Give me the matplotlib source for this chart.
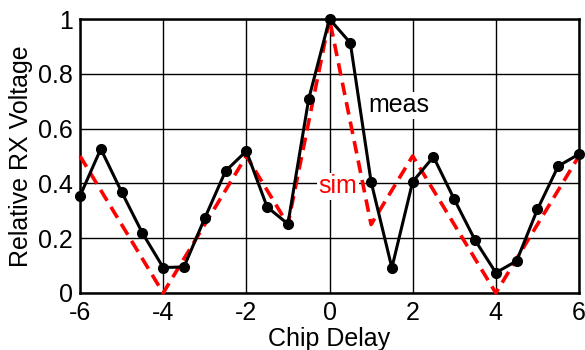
import matplotlib
matplotlib.use("Agg")
import matplotlib.pyplot as plt

plt.rcParams['font.family'] = ['Liberation Sans', 'DejaVu Sans']
plt.rcParams['axes.unicode_minus'] = False

# measured correlation vs chip delay
meas_x = [-6, -5.5, -5, -4.5, -4, -3.5, -3, -2.5, -2, -1.5, -1, -0.5, 0,
          0.5, 1, 1.5, 2, 2.5, 3, 3.5, 4, 4.5, 5, 5.5, 6]
meas_y = [0.354, 0.526, 0.369, 0.219, 0.093, 0.095, 0.273, 0.445, 0.518,
          0.314, 0.252, 0.708, 1.0, 0.913, 0.406, 0.092, 0.406, 0.497,
          0.342, 0.193, 0.074, 0.117, 0.305, 0.463, 0.507]

# simulated correlation
sim_x = [-6, -4, -2, -1, 0, 1, 2, 4, 6]
sim_y = [0.5, 0, 0.5, 0.25, 1.0, 0.25, 0.5, 0, 0.5]

x_ticks = [-6, -4, -2, 0, 2, 4, 6]
y_ticks = [0, 0.2, 0.4, 0.6, 0.8, 1]
y_tick_labels = ['0', '0.2', '0.4', '0.6', '0.8', '1']

fig = plt.figure(figsize=(5.85, 3.5), dpi=100)
ax = fig.add_axes([80/585, 1 - 293/350, 499/585, 274/350])

ax.plot(sim_x, sim_y, color='#ff0000', lw=2.6, ls=(0, (3.5, 2)), zorder=3,
        clip_on=False)
ax.plot(meas_x, meas_y, color='black', lw=2.2, marker='o', ms=7, zorder=4,
        clip_on=False)

ax.set_xlim(-6, 6)
ax.set_ylim(0, 1)
ax.set_xticks(x_ticks)
ax.set_yticks(y_ticks)
ax.set_yticklabels(y_tick_labels)
ax.grid(True, color='black', lw=1.0)
ax.set_axisbelow(True)
for s in ax.spines.values():
    s.set_linewidth(1.8)
ax.tick_params(direction='in', length=0, labelsize=18)
ax.tick_params(axis='x', pad=6)
ax.tick_params(axis='y', pad=5)

ax.set_xlabel('Chip Delay', fontsize=18, labelpad=1)
ax.set_ylabel('Relative RX Voltage', fontsize=18, labelpad=4)

ax.text(1.67, 0.686, 'meas', fontsize=18, color='black', ha='center',
        va='center', zorder=2.5,
        bbox=dict(facecolor='white', edgecolor='none', pad=1))
ax.text(0.2, 0.39, 'sim', fontsize=18, color='#ff0000', ha='center',
        va='center', zorder=2.5,
        bbox=dict(facecolor='white', edgecolor='none', pad=1))

fig.savefig('out.png', dpi=100)
